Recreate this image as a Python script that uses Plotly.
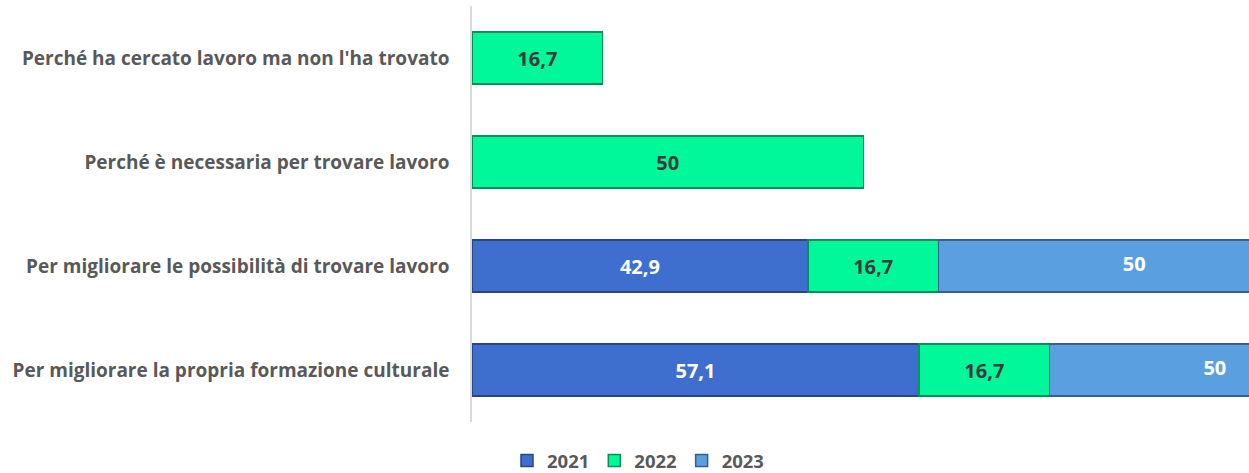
import plotly.graph_objects as go

categories = [
    "Perché ha cercato lavoro ma non l'ha trovato",
    "Perché è necessaria per trovare lavoro",
    "Per migliorare le possibilità di trovare lavoro",
    "Per migliorare la propria formazione culturale",
]
years = ["2021", "2022", "2023"]
v2021 = [None, None, 42.9, 57.1]
v2022 = [16.7, 50, 16.7, 16.7]
v2023 = [None, None, 50, 50]

colors = ["#3F6FCE", "#00F79A", "#5A9FE0"]
lines = ["#284784", "#08905A", "#365F8C"]
textcolors = ["white", "#3A3A3A", "white"]

# The original chart is cropped on the right: its axis runs to ~116,
# only the left part of it is visible in the 1249 px window.
X_MAX = 116
PX_PER_UNIT = 7.83
LEFT = 472
FIG_W = int(LEFT + X_MAX * PX_PER_UNIT)


def fmt(v):
    return "" if v is None else f"{v:g}".replace(".", ",")


series = [v2021, v2022, v2023]
fig = go.Figure()
for i, (name, vals, c, lc, tc) in enumerate(zip(years, series, colors, lines, textcolors)):
    last = i == len(series) - 1
    fig.add_trace(go.Bar(
        y=categories, x=vals, name=name, orientation="h",
        marker=dict(color=c, line=dict(color=lc, width=1.5)),
        text=None if last else [fmt(v) for v in vals],
        textposition="none" if last else "inside", insidetextanchor="middle",
        textfont=dict(family="Open Sans", size=20, color=tc, weight="bold"),
        hoverinfo="x+y+name",
    ))

# labels of the last segment: centred on the part of the segment inside the axis
bases = [sum((s[k] or 0) for s in series[:-1]) for k in range(len(categories))]
lab_x, lab_y, lab_t = [], [], []
for k, v in enumerate(v2023):
    if v is None:
        continue
    end = min(bases[k] + v, X_MAX)
    lab_x.append((bases[k] + end) / 2)
    lab_y.append(categories[k])
    lab_t.append(fmt(v))
fig.add_trace(go.Scatter(
    x=lab_x, y=lab_y, text=lab_t, mode="text", showlegend=False,
    textfont=dict(family="Open Sans", size=20, color=textcolors[2], weight="bold"),
    hoverinfo="skip", cliponaxis=False,
))

fig.update_layout(
    barmode="stack",
    bargap=0.5,
    width=FIG_W, height=473,
    margin=dict(l=LEFT, r=0, t=6, b=51),
    paper_bgcolor="white", plot_bgcolor="white",
    font=dict(family="Open Sans", color="#595959"),
    uniformtext=dict(mode="show", minsize=10),
    legend=dict(orientation="h", x=638 / FIG_W, xanchor="center", xref="container",
                y=12 / 473, yanchor="middle", yref="container",
                font=dict(family="Open Sans", size=18.5, color="#595959", weight="bold"),
                itemwidth=30, traceorder="normal"),
    showlegend=True,
)
fig.update_xaxes(range=[0, X_MAX], showgrid=False, showticklabels=False,
                 zeroline=False, showline=False)
fig.update_yaxes(autorange="reversed", showline=True, linecolor="#D9D9D9",
                 linewidth=1.5, ticks="", ticklabelstandoff=17,
                 tickfont=dict(family="Open Sans", size=19, color="#595959", weight="bold"))

fig.write_html(
    "out.html",
    config={"displayModeBar": False},
    post_script="document.body.style.margin='0';"
                "document.documentElement.style.overflow='hidden';"
                "document.body.style.overflow='hidden';",
)
